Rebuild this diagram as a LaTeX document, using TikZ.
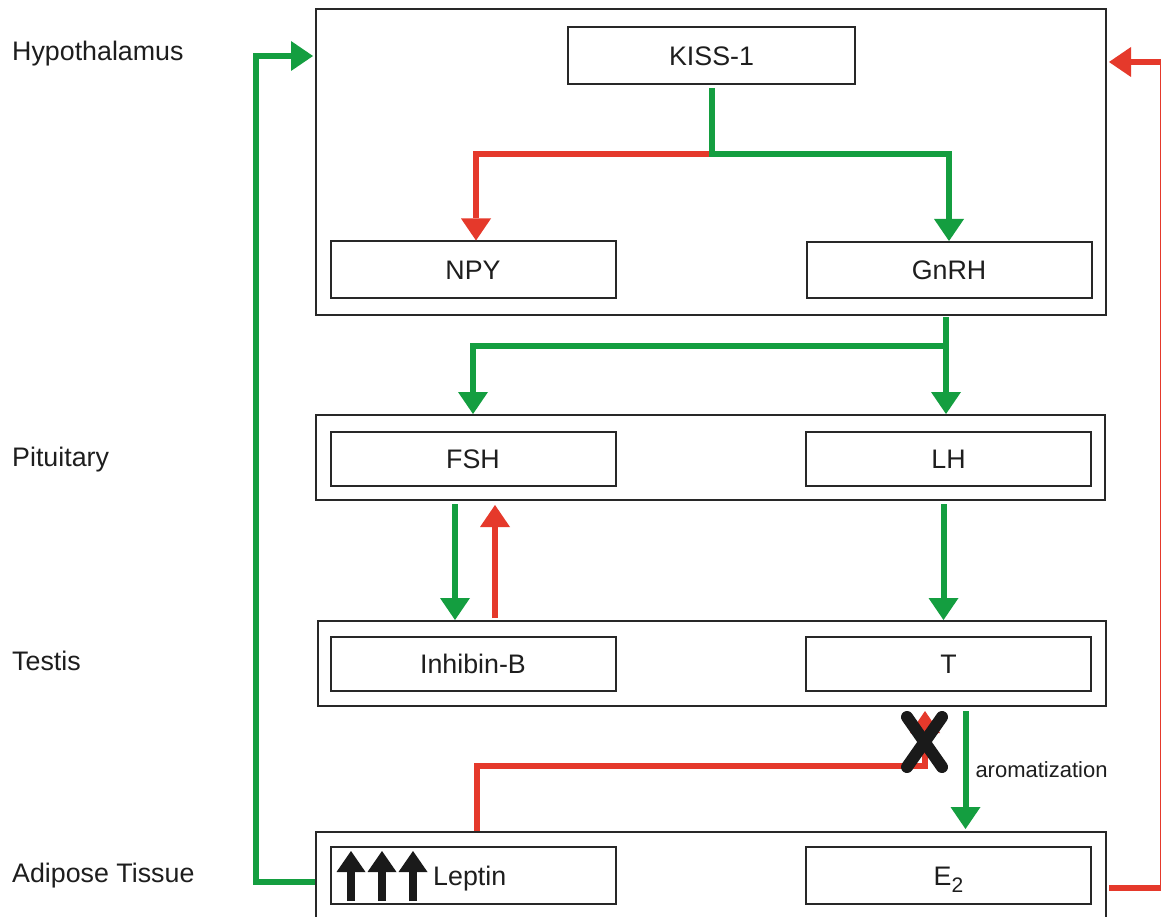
\documentclass[tikz,border=0pt]{standalone}
\usepackage{fontspec}
\setmainfont{Liberation Sans}
\usetikzlibrary{arrows.meta,calc}

\definecolor{actgreen}{RGB}{20,158,64}
\definecolor{inhred}{RGB}{229,57,43}
\definecolor{boxline}{RGB}{40,40,40}
\definecolor{markblack}{RGB}{26,26,26}
\definecolor{txtgray}{RGB}{30,30,30}

\begin{document}
\begin{tikzpicture}[x=1pt,y=-1pt,
  every node/.style={text=txtgray},
  organ/.style={draw=boxline,line width=2pt,inner sep=0pt},
  hormone/.style={draw=boxline,line width=2pt,minimum width=285pt,minimum height=56pt,
    inner sep=0pt,text height=19.3pt,text depth=0pt,font=\fontsize{26.8}{30}\selectfont},
  region/.style={anchor=base west,inner sep=0pt,font=\fontsize{26.8}{30}\selectfont},
  stim/.style={draw=actgreen,line width=6pt,
    -{Triangle[width=30pt,length=22pt,line width=0pt]}},
  inhib/.style={draw=inhred,line width=6pt,
    -{Triangle[width=30pt,length=22pt,line width=0pt]}},
  uparrow/.style={draw=markblack,line width=8pt,
    -{Triangle[width=29pt,length=21pt,line width=0pt]}},
  xmark/.style={draw=markblack,line width=12pt,line cap=round},
]
\useasboundingbox (0,0) rectangle (1161,917);
\fill[white] (0,0) rectangle (1161,917);

% organ frames
\node[organ,minimum width=790pt,minimum height=306pt] (hypo) at (711,162) {};
\node[organ,minimum width=789pt,minimum height=85pt] (pit) at (710.5,457.5) {};
\node[organ,minimum width=788pt,minimum height=85pt] (testis) at (712,663.5) {};
\node[organ,minimum width=790pt,minimum height=100pt] (adip) at (711,882) {};

% region labels
\node[region] (lhyp) at (12,61) {Hypothalamus};
\node[region] (lpit) at (12,466) {Pituitary};
\node[region] (ltes) at (12,670) {Testis};
\node[region] (ladip) at (12,882) {Adipose Tissue};

% hormone boxes
\node[hormone,minimum width=287pt,minimum height=57pt] (kiss) at (711.5,55.5) {KISS-1};
\node[hormone] (npy) at (473,269.5) {NPY};
\node[hormone] (gnrh) at (949,270) {GnRH};
\node[hormone,minimum height=54pt] (fsh) at (473,459) {FSH};
\node[hormone,minimum height=54pt] (lh) at (948.5,459) {LH};
\node[hormone,minimum height=54pt] (inh) at (473,664) {Inhibin-B};
\node[hormone,minimum height=54pt] (t) at (948.5,664) {T};
\node[hormone,minimum height=57pt] (leptin) at (473,875.5) {};
\node[hormone,minimum height=57pt] (e2) at (948.5,875.5)
  {E\raisebox{-7pt}{\fontsize{21}{21}\selectfont 2}};
\node[anchor=base west,inner sep=0pt,font=\fontsize{26.8}{30}\selectfont] (leptxt) at (433,885) {Leptin};

% rising leptin marks
\foreach \ax in {351,382,413}
  \draw[uparrow] (\ax,901) -- (\ax,851);

% hypothalamus: KISS-1 to NPY and GnRH
\coordinate (kjoin) at (711.5,154);
\draw[inhib] (kjoin) -| ($(npy.north)+(3,0)$);
\draw[stim] ($(kiss.south)+(0,3)$) -- (kjoin) -| (gnrh.north);

% GnRH to FSH and LH
\coordinate (gtop) at (946,317);
\coordinate (gsplit) at (946,346);
\draw[stim] (gtop) -- (gsplit |- pit.north);
\draw[stim] (gsplit) -| (fsh.north |- pit.north);

% pituitary - testis
\draw[stim] ($(fsh.south |- pit.south)+(-18,3)$) -- ($(fsh.south |- testis.north)+(-18,0)$);
\draw[inhib] ($(fsh.south |- testis.north)+(22,-2)$) -- ($(fsh.south |- pit.south)+(22,4)$);
\draw[stim] ($(lh.south |- pit.south)+(-5,3)$) -- ($(lh.south |- testis.north)+(-5,0)$);

% aromatization of T to E2
\draw[stim] ($(t.south |- testis.south)+(17,4)$) --
  node[midway,anchor=west,inner sep=0pt,xshift=7pt,font=\fontsize{22}{26}\selectfont] (arom) {aromatization}
  ($(t.south |- adip.north)+(17,-2)$);

% leptin inhibition of testis, blocked
\coordinate (rA) at (477,766);
\coordinate (rB) at (925,766);
\draw[inhib] (adip.north -| rA) -- (rA) -- (rB) -- ($(rB |- testis.south)+(0,4)$);
\draw[xmark] (907,717) -- (942,767);
\draw[xmark] (942,717) -- (907,767);

% leptin feedback to hypothalamus
\coordinate (gl1) at (256,882);
\coordinate (gl2) at (256,56);
\draw[stim] (adip.west) -- (gl1) -- (gl2) -- ($(hypo.west |- gl2)+(-2,0)$);

% E2 feedback to hypothalamus
\coordinate (rr1) at (1163,888);
\coordinate (rr2) at (1163,62);
\draw[inhib] ($(adip.east)+(2,6)$) -- (rr1) -- (rr2) -- ($(hypo.east |- rr2)+(2,0)$);
\end{tikzpicture}
\end{document}
